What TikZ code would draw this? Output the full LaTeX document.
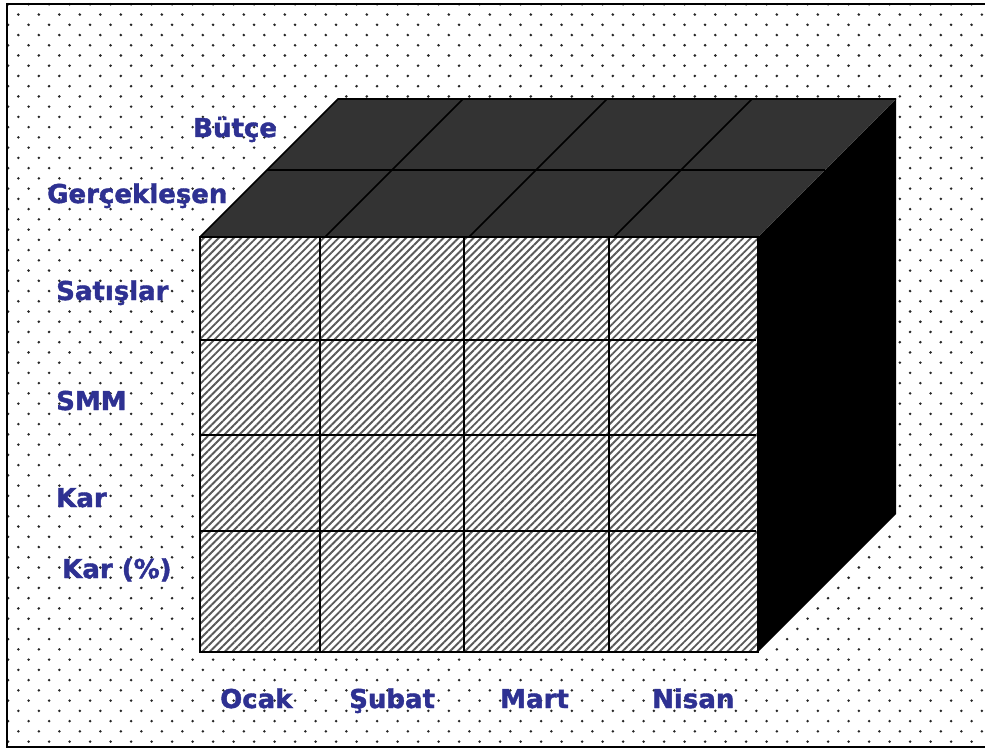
\documentclass[tikz,border=0pt]{standalone}
\usepackage{fontspec}
\setmainfont{DejaVu Sans}[BoldFont={DejaVu Sans Bold},BoldFeatures={FakeBold=1.5}]
\usetikzlibrary{patterns.meta}
\definecolor{lbl}{RGB}{46,49,146}
\definecolor{topgray}{RGB}{51,51,51}
\tikzset{
  lab/.style={anchor=base west,inner sep=0pt,text=lbl,font=\fontsize{26}{30}\selectfont\bfseries},
  grid/.style={line width=1.6pt,black},
  dotfill/.style={fill=black!85},
}
\begin{document}
\begin{tikzpicture}[x=1pt,y=-1pt]
\useasboundingbox (0,0) rectangle (985,749);
\clip (0,0) rectangle (985,749);
\fill[white] (0,0) rectangle (985,749);
% dotted background
\foreach \k in {0,...,73}{
  \pgfmathsetmacro\yy{4.3+10.24*\k}
  \pgfmathsetmacro\xo{mod(\k,2)==0 ? 8.1 : 18.35}
  \foreach \j in {0,...,47}{
    \fill[dotfill] (\xo+20.5*\j,\yy) circle (1.4pt);
  }
}
% frame
\draw[line width=2pt] (7.3,3.7) rectangle (995,746.5);
% right face
\fill[black] (758,237) -- (896,99) -- (896,514) -- (758,652) -- cycle;
% top face
\fill[topgray] (200,237) -- (338,99) -- (896,99) -- (758,237) -- cycle;
\draw[grid] (267,170) -- (825,170);
\draw[grid] (325,237) -- (463,99);
\draw[grid] (469,237) -- (607,99);
\draw[grid] (614,237) -- (752,99);
\draw[grid] (200,237) -- (338,99) -- (896,99);
% front face
\fill[white] (200,237) rectangle (758,652);
\fill[pattern={Lines[angle=45,distance=5.3pt,line width=1.9pt]},pattern color=black!65] (200,237) rectangle (758,652);
\draw[grid] (200,237) rectangle (758,652);
\foreach \xx in {320,464,609}{ \draw[grid] (\xx,237) -- (\xx,652); }
\foreach \yy in {340,435,531}{ \draw[grid] (200,\yy) -- (756,\yy); }
% labels
\node[lab] (butce) at (193,137) {Bütçe};
\node[lab] (gerc) at (47,203) {Gerçekleşen};
\node[lab] (sat) at (56,300) {Satışlar};
\node[lab] (smm) at (56,410) {SMM};
\node[lab] (kar) at (56,507) {Kar};
\node[lab] (karp) at (62,578) {Kar (\%)};
\node[lab] (ocak) at (220,708) {Ocak};
\node[lab] (subat) at (349,708) {Şubat};
\node[lab] (mart) at (500,708) {Mart};
\node[lab] (nisan) at (652,708) {Nisan};
\end{tikzpicture}
\end{document}
